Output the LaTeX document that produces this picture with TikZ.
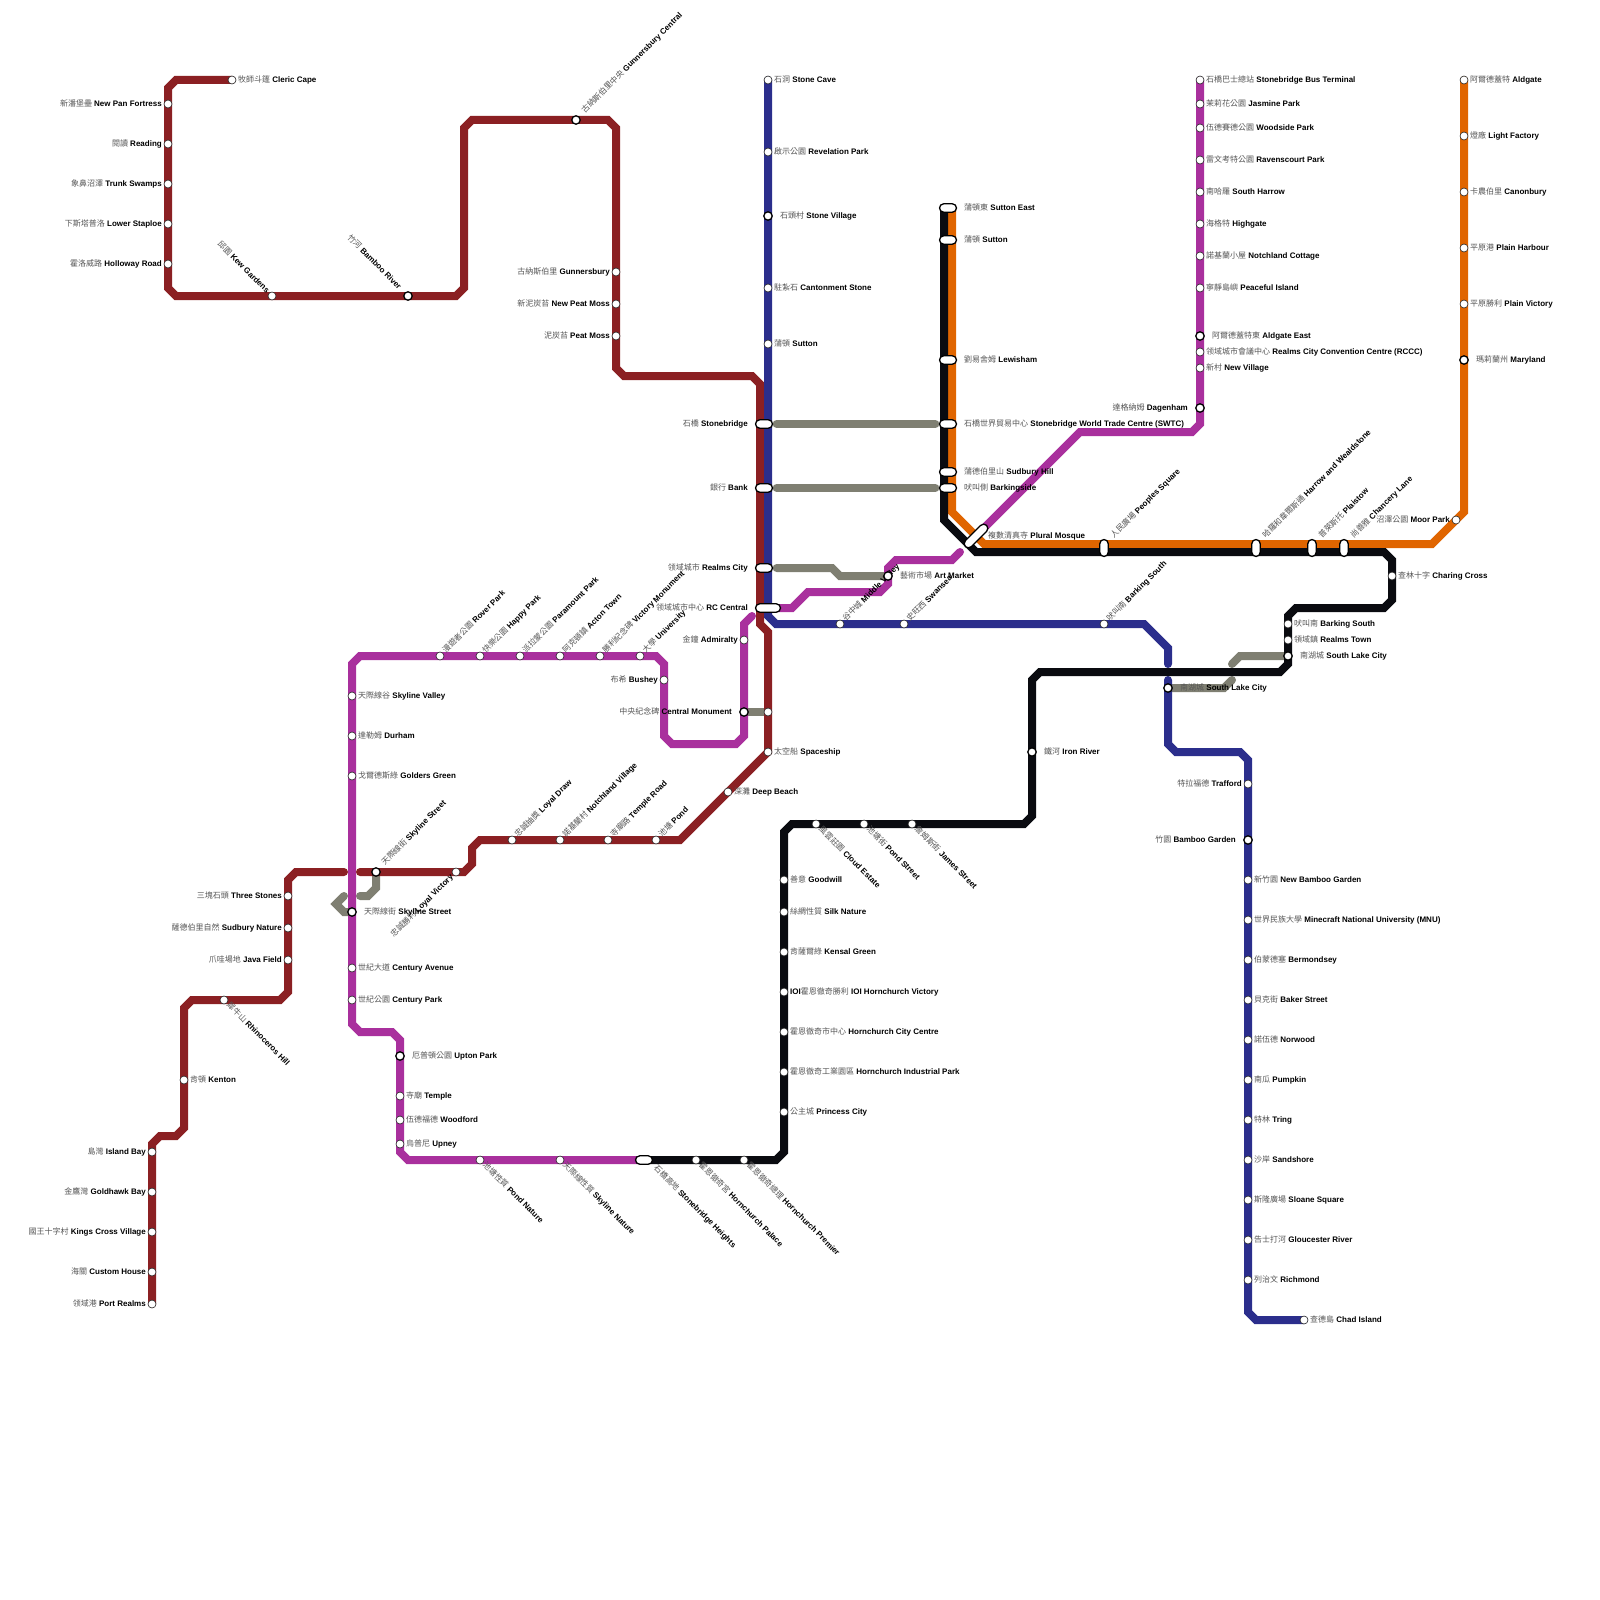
\documentclass[tikz,border=0pt]{standalone}
\usepackage{fontspec}
\setmainfont{Liberation Sans}
\newfontfamily\cjk{Noto Sans CJK TC}
\definecolor{lred}{HTML}{8B2023}
\definecolor{lblue}{HTML}{2B2E8C}
\definecolor{lorange}{HTML}{E06500}
\definecolor{lblack}{HTML}{0A0B10}
\definecolor{lpurple}{HTML}{A9309D}
\definecolor{lgray}{HTML}{7F7F72}
\definecolor{zhc}{HTML}{555555}
\pgfdeclarelayer{bg}
\pgfsetlayers{bg,main}
\tikzset{
  stn/.style={circle,draw=black!85,line width=0.6pt,fill=white,inner sep=0,minimum size=8pt},
  inter/.style={circle,draw=black,line width=1.3pt,fill=white,inner sep=0,minimum size=8.4pt},
  pill/.style={rectangle,rounded corners=4.2pt,draw=black,line width=1.3pt,fill=white,inner sep=0,minimum width=17pt,minimum height=8.4pt},
  pillv/.style={pill,rotate=90},
  pillw/.style={pill,minimum width=25pt},
  pilld/.style={pill,minimum width=30pt,rotate=45},
  lbl/.style={inner sep=0,font=\fontsize{8}{9.5}\selectfont,text height=6.8pt,text depth=2pt,text=black},
  lR/.style={anchor=west},
  lL/.style={anchor=east},
  lU/.style={anchor=west,rotate=45},
  lUL/.style={anchor=east,rotate=-45},
  lD/.style={anchor=west,rotate=-45},
  lDL/.style={anchor=east,rotate=45},
  metro/.style={line width=8pt,line cap=round,line join=miter},
  lnred/.style={metro,draw=lred},
  lnblue/.style={metro,draw=lblue},
  lnorange/.style={metro,draw=lorange},
  lnblack/.style={metro,draw=lblack},
  lnpurple/.style={metro,draw=lpurple},
  conn/.style={metro,draw=lgray,line join=miter}
}
\newcommand{\st}[7]{\node[#1] (#2) at (#3) {}; \node[lbl,#4] (#2-t) at ([shift={(#5)}]#2.center) {{\cjk\color{zhc}#6} \textbf{#7}};}
\begin{document}
\begin{tikzpicture}[x=1pt,y=-1pt]
\useasboundingbox (0,0) rectangle (1600,1600);
% free ends of the gaps
\coordinate (redgapL) at (344,872);
\coordinate (redgapR) at (360,872);
\coordinate (bluegapT) at (1168,664);
\coordinate (bluegapB) at (1168,680);
\coordinate (purpgapA) at (960,552);
\coordinate (purpgapB) at (752,616);
\coordinate (grayA) at (360,896);
\coordinate (grayB) at (344,896);
\coordinate (grayC) at (1232,680);
\coordinate (grayD) at (1232,664);
% RED
\st{stn}{clericcape}{232,80}{lR}{6,0}{牧師斗篷}{Cleric Cape}
\st{stn}{newpan}{168,104}{lL}{-6,0}{新潘堡壘}{New Pan Fortress}
\st{stn}{reading}{168,144}{lL}{-6,0}{閱讀}{Reading}
\st{stn}{trunk}{168,184}{lL}{-6,0}{象鼻沼澤}{Trunk Swamps}
\st{stn}{staploe}{168,224}{lL}{-6,0}{下斯塔普洛}{Lower Staploe}
\st{stn}{holloway}{168,264}{lL}{-6,0}{霍洛威路}{Holloway Road}
\st{stn}{kew}{272,296}{lUL}{-4,-4}{邱園}{Kew Gardens}
\st{inter}{bambooriver}{408,296}{lUL}{-8,-8}{竹河}{Bamboo River}
\st{inter}{gunnc}{576,120}{lU}{7,-8}{古納斯伯里中央}{Gunnersbury Central}
\st{stn}{gunn}{616,272}{lL}{-6,0}{古納斯伯里}{Gunnersbury}
\st{stn}{newpeat}{616,304}{lL}{-6,0}{新泥炭苔}{New Peat Moss}
\st{stn}{peat}{616,336}{lL}{-6,0}{泥炭苔}{Peat Moss}
\node[stn] (centralmonR) at (768,712) {};
\st{stn}{spaceship}{768,752}{lR}{6,0}{太空船}{Spaceship}
\st{stn}{deepbeach}{728,792}{lR}{6,0}{深灘}{Deep Beach}
\st{stn}{pond}{656,840}{lU}{4,-4}{池塘}{Pond}
\st{stn}{templerd}{608,840}{lU}{4,-4}{寺廟路}{Temple Road}
\st{stn}{notchv}{560,840}{lU}{4,-4}{諾基蘭村}{Notchland Village}
\st{stn}{loyald}{512,840}{lU}{4,-4}{忠誠抽獎}{Loyal Draw}
\st{stn}{loyalv}{456,872}{lDL}{-4,4}{忠誠勝利}{Loyal Victory}
\st{inter}{skylineR}{376,872}{lU}{7,-8}{天際線街}{Skyline Street}
\st{stn}{threest}{288,896}{lL}{-6,0}{三塊石頭}{Three Stones}
\st{stn}{sudnat}{288,928}{lL}{-6,0}{薩德伯里自然}{Sudbury Nature}
\st{stn}{java}{288,960}{lL}{-6,0}{爪哇場地}{Java Field}
\st{stn}{rhino}{224,1000}{lD}{4,4}{犀牛山}{Rhinoceros Hill}
\st{stn}{kenton}{184,1080}{lR}{6,0}{肯頓}{Kenton}
\st{stn}{islandbay}{152,1152}{lL}{-6,0}{島灣}{Island Bay}
\st{stn}{goldhawk}{152,1192}{lL}{-6,0}{金鷹灣}{Goldhawk Bay}
\st{stn}{kings}{152,1232}{lL}{-6,0}{國王十字村}{Kings Cross Village}
\st{stn}{custom}{152,1272}{lL}{-6,0}{海關}{Custom House}
\st{stn}{portrealms}{152,1304}{lL}{-6,0}{领域港}{Port Realms}
% BLUE
\st{stn}{stonecave}{768,80}{lR}{6,0}{石洞}{Stone Cave}
\st{stn}{revelation}{768,152}{lR}{6,0}{啟示公園}{Revelation Park}
\st{inter}{stonevillage}{768,216}{lR}{12,0}{石頭村}{Stone Village}
\st{stn}{cantonment}{768,288}{lR}{6,0}{駐紮石}{Cantonment Stone}
\st{stn}{suttonB}{768,344}{lR}{6,0}{蒲頓}{Sutton}
\st{pill}{stonebridge}{764,424}{lL}{-16,0}{石橋}{Stonebridge}
\st{pill}{bank}{764,488}{lL}{-16,0}{銀行}{Bank}
\st{pill}{realmscity}{764,568}{lL}{-16,0}{领域城市}{Realms City}
\st{pillw}{rccentral}{768,608}{lL}{-20,0}{领域城市中心}{RC Central}
\st{stn}{middlevalley}{840,624}{lU}{4,-4}{谷中城}{Middle Valley}
\st{stn}{swansea}{904,624}{lU}{4,-4}{史旺西}{Swansea}
\st{stn}{barkingsB}{1104,624}{lU}{4,-4}{吠叫南}{Barking South}
\st{inter}{southlakeB}{1168,688}{lR}{12,0}{南湖城}{South Lake City}
\st{stn}{trafford}{1248,784}{lL}{-6,0}{特拉福德}{Trafford}
\st{inter}{bamboogarden}{1248,840}{lL}{-12,0}{竹園}{Bamboo Garden}
\st{stn}{newbamboo}{1248,880}{lR}{6,0}{新竹園}{New Bamboo Garden}
\st{stn}{mnu}{1248,920}{lR}{6,0}{世界民族大學}{Minecraft National University (MNU)}
\st{stn}{bermondsey}{1248,960}{lR}{6,0}{伯蒙德塞}{Bermondsey}
\st{stn}{baker}{1248,1000}{lR}{6,0}{貝克街}{Baker Street}
\st{stn}{norwood}{1248,1040}{lR}{6,0}{諾伍德}{Norwood}
\st{stn}{pumpkin}{1248,1080}{lR}{6,0}{南瓜}{Pumpkin}
\st{stn}{tring}{1248,1120}{lR}{6,0}{特林}{Tring}
\st{stn}{sandshore}{1248,1160}{lR}{6,0}{沙岸}{Sandshore}
\st{stn}{sloane}{1248,1200}{lR}{6,0}{斯隆廣場}{Sloane Square}
\st{stn}{gloucester}{1248,1240}{lR}{6,0}{告士打河}{Gloucester River}
\st{stn}{richmond}{1248,1280}{lR}{6,0}{列治文}{Richmond}
\st{stn}{chad}{1304,1320}{lR}{6,0}{查德島}{Chad Island}
% BLACK + ORANGE
\st{pill}{suttoneast}{948,208}{lR}{16,0}{蒲頓東}{Sutton East}
\st{pill}{sutton}{948,240}{lR}{16,0}{蒲頓}{Sutton}
\st{pill}{lewisham}{948,360}{lR}{16,0}{劉易舍姆}{Lewisham}
\st{pill}{swtc}{948,424}{lR}{16,0}{石橋世界貿易中心}{Stonebridge World Trade Centre (SWTC)}
\st{pill}{sudburyhill}{948,472}{lR}{16,0}{蒲德伯里山}{Sudbury Hill}
\st{pill}{barkingside}{948,488}{lR}{16,0}{吠叫側}{Barkingside}
\st{pilld}{plural}{976,536}{lR}{12,0}{複數清真寺}{Plural Mosque}
\st{pillv}{peoples}{1104,548}{lU}{8,-11}{人民廣場}{Peoples Square}
\st{pillv}{harrow}{1256,548}{lU}{8,-11}{哈羅和韋爾斯通}{Harrow and Wealdstone}
\st{pillv}{plaistow}{1312,548}{lU}{8,-11}{普萊斯托}{Plaistow}
\st{pillv}{chancery}{1344,548}{lU}{8,-11}{尚善雅}{Chancery Lane}
\st{stn}{moorpark}{1456,520}{lL}{-6,0}{沼澤公園}{Moor Park}
\st{inter}{maryland}{1464,360}{lR}{12,0}{瑪莉蘭州}{Maryland}
\st{stn}{plainv}{1464,304}{lR}{6,0}{平原勝利}{Plain Victory}
\st{stn}{plainh}{1464,248}{lR}{6,0}{平原港}{Plain Harbour}
\st{stn}{canonbury}{1464,192}{lR}{6,0}{卡農伯里}{Canonbury}
\st{stn}{lightf}{1464,136}{lR}{6,0}{燈廠}{Light Factory}
\st{stn}{aldgate}{1464,80}{lR}{6,0}{阿爾德蓋特}{Aldgate}
\st{stn}{charing}{1392,576}{lR}{6,0}{查林十字}{Charing Cross}
\st{stn}{barkingsK}{1288,624}{lR}{6,0}{吠叫南}{Barking South}
\st{stn}{realmstown}{1288,640}{lR}{6,0}{領域鎮}{Realms Town}
\st{inter}{southlakeK}{1288,656}{lR}{12,0}{南湖城}{South Lake City}
\st{inter}{ironriver}{1032,752}{lR}{12,0}{鐵河}{Iron River}
\st{stn}{jamesst}{912,824}{lD}{4,4}{詹姆斯街}{James Street}
\st{stn}{pondst}{864,824}{lD}{4,4}{池塘街}{Pond Street}
\st{stn}{cloud}{816,824}{lD}{4,4}{風雲莊園}{Cloud Estate}
\st{stn}{goodwill}{784,880}{lR}{6,0}{善意}{Goodwill}
\st{stn}{silk}{784,912}{lR}{6,0}{絲綢性質}{Silk Nature}
\st{stn}{kensal}{784,952}{lR}{6,0}{肯薩爾綠}{Kensal Green}
\st{stn}{ioi}{784,992}{lR}{6,0}{{\color{black}\rmfamily\bfseries IOI}霍恩徹奇勝利}{IOI Hornchurch Victory}
\st{stn}{hcc}{784,1032}{lR}{6,0}{霍恩徹奇市中心}{Hornchurch City Centre}
\st{stn}{hip}{784,1072}{lR}{6,0}{霍恩徹奇工業園區}{Hornchurch Industrial Park}
\st{stn}{princess}{784,1112}{lR}{6,0}{公主城}{Princess City}
\st{stn}{hpremier}{744,1160}{lD}{4,4}{霍恩徹奇總理}{Hornchurch Premier}
\st{stn}{hpalace}{696,1160}{lD}{4,4}{霍恩徹奇宮}{Hornchurch Palace}
\st{pill}{heights}{644,1160}{lD}{11,7}{石橋高地}{Stonebridge Heights}
% PURPLE
\st{stn}{sbterm}{1200,80}{lR}{6,0}{石橋巴士總站}{Stonebridge Bus Terminal}
\st{stn}{jasmine}{1200,104}{lR}{6,0}{茉莉花公園}{Jasmine Park}
\st{stn}{woodside}{1200,128}{lR}{6,0}{伍德賽德公園}{Woodside Park}
\st{stn}{ravens}{1200,160}{lR}{6,0}{雷文考特公園}{Ravenscourt Park}
\st{stn}{sharrow}{1200,192}{lR}{6,0}{南哈羅}{South Harrow}
\st{stn}{highgate}{1200,224}{lR}{6,0}{海格特}{Highgate}
\st{stn}{notchc}{1200,256}{lR}{6,0}{諾基蘭小屋}{Notchland Cottage}
\st{stn}{peaceful}{1200,288}{lR}{6,0}{寧靜島嶼}{Peaceful Island}
\st{inter}{aldgatee}{1200,336}{lR}{12,0}{阿爾德蓋特東}{Aldgate East}
\st{stn}{rccc}{1200,352}{lR}{6,0}{领域城市會議中心}{Realms City Convention Centre (RCCC)}
\st{stn}{newvillage}{1200,368}{lR}{6,0}{新村}{New Village}
\st{inter}{dagenham}{1200,408}{lL}{-12,0}{達格納姆}{Dagenham}
\st{inter}{artmarket}{888,576}{lR}{12,0}{藝術市場}{Art Market}
\st{stn}{admiralty}{744,640}{lL}{-6,0}{金鐘}{Admiralty}
\st{inter}{centralmon}{744,712}{lL}{-12,0}{中央紀念碑}{Central Monument}
\st{stn}{bushey}{664,680}{lL}{-6,0}{布希}{Bushey}
\st{stn}{university}{640,656}{lU}{4,-4}{大學}{University}
\st{stn}{victorym}{600,656}{lU}{4,-4}{勝利紀念碑}{Victory Monument}
\st{stn}{acton}{560,656}{lU}{4,-4}{阿克頓鎮}{Acton Town}
\st{stn}{paramount}{520,656}{lU}{4,-4}{派拉蒙公園}{Paramount Park}
\st{stn}{happy}{480,656}{lU}{4,-4}{快樂公園}{Happy Park}
\st{stn}{rover}{440,656}{lU}{4,-4}{漫遊者公園}{Rover Park}
\st{stn}{skyvalley}{352,696}{lR}{6,0}{天際線谷}{Skyline Valley}
\st{stn}{durham}{352,736}{lR}{6,0}{達勒姆}{Durham}
\st{stn}{golders}{352,776}{lR}{6,0}{戈爾德斯綠}{Golders Green}
\st{inter}{skylineP}{352,912}{lR}{12,0}{天際線街}{Skyline Street}
\st{stn}{centave}{352,968}{lR}{6,0}{世紀大道}{Century Avenue}
\st{stn}{centpark}{352,1000}{lR}{6,0}{世紀公園}{Century Park}
\st{inter}{upton}{400,1056}{lR}{12,0}{厄普頓公園}{Upton Park}
\st{stn}{temple}{400,1096}{lR}{6,0}{寺廟}{Temple}
\st{stn}{woodford}{400,1120}{lR}{6,0}{伍德福德}{Woodford}
\st{stn}{upney}{400,1144}{lR}{6,0}{烏普尼}{Upney}
\st{stn}{pondnat}{480,1160}{lD}{4,4}{池塘性質}{Pond Nature}
\st{stn}{skynat}{560,1160}{lD}{4,4}{天際線性質}{Skyline Nature}
\begin{pgfonlayer}{bg}
% transfer links
\draw[conn] ([xshift=3.5pt]stonebridge.east) -- ([xshift=-3.5pt]swtc.west);
\draw[conn] ([xshift=3.5pt]bank.east) -- ([xshift=-3.5pt]barkingside.west);
\draw[conn] ([xshift=3.5pt]realmscity.east) -- (832,568) -- (840,576) -- (artmarket.center);
\draw[conn] (centralmon.center) -- (centralmonR.center);
\draw[conn] (skylineR.center) -- (376,888) -- (368,896) -- (grayA);
\draw[conn] (grayB) -- (336,904) -- (344,912) -- (skylineP.center);
\draw[conn] (southlakeB.center) -- (1224,688) -- (grayC);
\draw[conn] (grayD) -- (1240,656) -- (southlakeK.center);
% lines
\draw[lnpurple] (sbterm.center) -- (1200,424) -- (1192,432) -- (1080,432) -- (plural.center);
\draw[lnpurple] (purpgapA) -- (952,560) -- (896,560) -- (888,568) -- (888,584) -- (880,592) -- (808,592) -- (792,608) -- (rccentral.center);
\draw[lnpurple] (purpgapB) -- (744,624) -- (744,736) -- (736,744) -- (672,744) -- (664,736) -- (664,664) -- (656,656) -- (360,656) -- (352,664) -- (352,1024) -- (360,1032) -- (392,1032) -- (400,1040) -- (400,1152) -- (408,1160) -- (heights.center);
\draw[lnred] (clericcape.center) -- (176,80) -- (168,88) -- (168,288) -- (176,296) -- (456,296) -- (464,288) -- (464,128) -- (472,120) -- (608,120) -- (616,128) -- (616,368) -- (624,376) -- (752,376) -- (760,384) -- (760,624) -- (768,632) -- (768,752) -- (680,840) -- (480,840) -- (472,848) -- (472,864) -- (464,872) -- (redgapR);
\draw[lnred] (redgapL) -- (296,872) -- (288,880) -- (288,992) -- (280,1000) -- (192,1000) -- (184,1008) -- (184,1128) -- (176,1136) -- (160,1136) -- (152,1144) -- (portrealms.center);
\draw[lnblue] (stonecave.center) -- (768,616) -- (776,624) -- (1144,624) -- (1168,648) -- (bluegapT);
\draw[lnblue] (bluegapB) -- (1168,744) -- (1176,752) -- (1240,752) -- (1248,760) -- (1248,1312) -- (1256,1320) -- (chad.center);
\draw[lnorange] (aldgate.center) -- (1464,512) -- (1432,544) -- (984,544) -- (952,512) -- (952,208);
\draw[lnblack] (944,208) -- (944,520) -- (976,552) -- (1384,552) -- (1392,560) -- (1392,600) -- (1384,608) -- (1296,608) -- (1288,616) -- (1288,664) -- (1280,672) -- (1040,672) -- (1032,680) -- (1032,816) -- (1024,824) -- (792,824) -- (784,832) -- (784,1152) -- (776,1160) -- (heights.center);
\end{pgfonlayer}
\end{tikzpicture}
\end{document}
